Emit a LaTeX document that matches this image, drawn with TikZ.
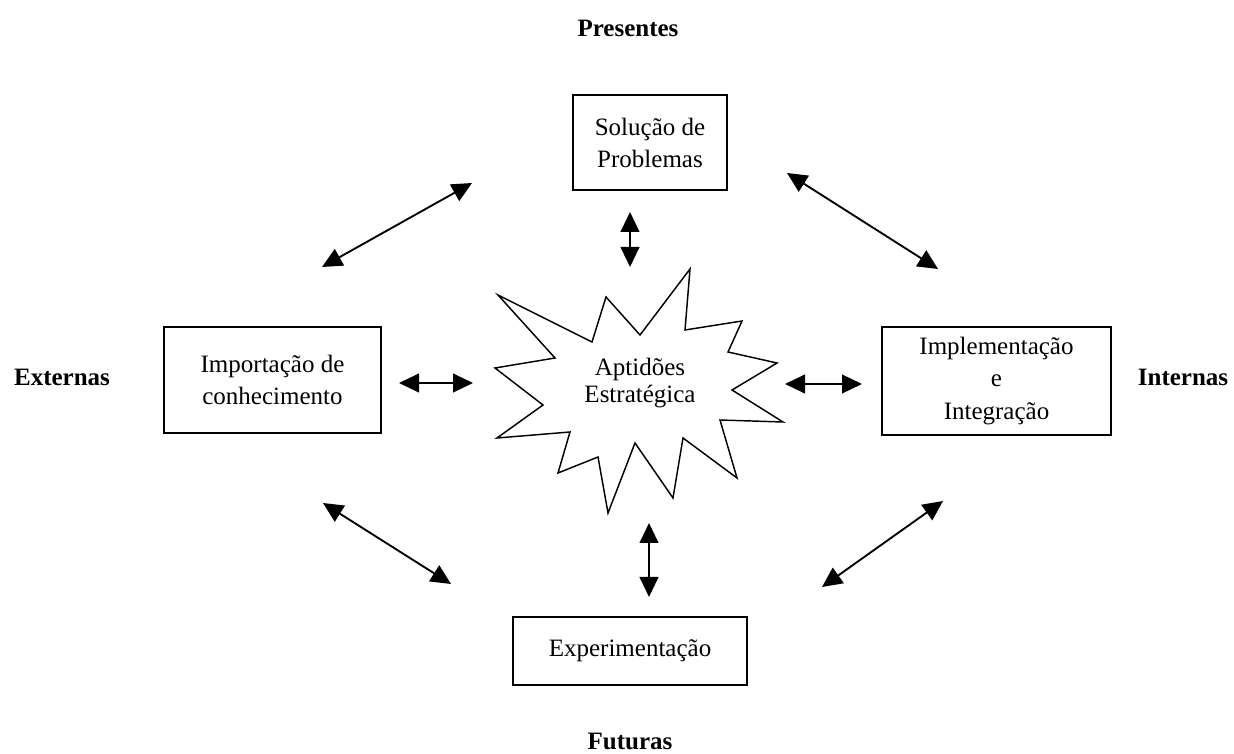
\documentclass[tikz,border=0pt]{standalone}
\usepackage{fontspec}
\setmainfont{Liberation Serif}
\usepackage{tikz}
\usetikzlibrary{arrows.meta}

\begin{document}
\begin{tikzpicture}[x=0.48pt,y=-0.48pt,
  box/.style={draw,line width=0.7pt,inner sep=0pt,outer sep=0pt,align=center,
    font=\fontsize{12}{15.4}\selectfont},
  lbl/.style={font=\fontsize{12}{14}\selectfont\bfseries},
  arr/.style={line width=0.9pt,{Triangle[length=9.6pt,width=9pt]}-{Triangle[length=9.6pt,width=9pt]}}]
\useasboundingbox (0,0) rectangle (1234,754);
% boxes
\node[box,minimum width=73.9pt,minimum height=45.6pt] (sol) at (650,142.5) {Solução de\\Problemas};
\node[box,minimum width=104.2pt,minimum height=50.9pt] (imp) at (272.5,380) {Importação de\\conhecimento};
\node[box,minimum width=109.9pt,minimum height=51.8pt] (int) at (996.5,381) {Implementação\\e\\Integração};
\node[box,minimum width=112.3pt,minimum height=32.6pt] (exp) at (630,651) {Experimentação};
% star
\draw[line width=0.7pt](498,295)--(592,342)--(606,297)--(640,335)--(690,269)--(685,330)
--(742,321)--(728,352)--(777,363)--(732,390)--(783,422)--(720,420)--(737,478)
--(683,438)--(673,498)--(635,443)--(608,513)--(598,457)--(558,473)--(570,432)
--(497,438)--(543,405)--(495,368)--(555,358)--cycle;
\node[align=center,font=\fontsize{12}{13}\selectfont] (apt) at (640,383) {Aptidões\\Estratégica};
% labels
\node[lbl] (pre) at (628,28) {Presentes};
\node[lbl] (ext) at (62,377) {Externas};
\node[lbl] (inn) at (1183,377) {Internas};
\node[lbl] (fut) at (630,741) {Futuras};
% arrow ends
\coordinate (a1) at (472,183); \coordinate (a2) at (322,267);
\coordinate (b1) at (630,212); \coordinate (b2) at (630,267);
\coordinate (c1) at (787,173); \coordinate (c2) at (938,269);
\coordinate (d1) at (399,383); \coordinate (d2) at (473,383);
\coordinate (e1) at (785,384); \coordinate (e2) at (862,384);
\coordinate (f1) at (649,523); \coordinate (f2) at (649,597);
\coordinate (g1) at (323,503); \coordinate (g2) at (451,584);
\coordinate (h1) at (943,501); \coordinate (h2) at (822,587);
\foreach \p in {a,b,c,d,e,f,g,h}
  \draw[arr](\p1)--(\p2);
\end{tikzpicture}
\end{document}
